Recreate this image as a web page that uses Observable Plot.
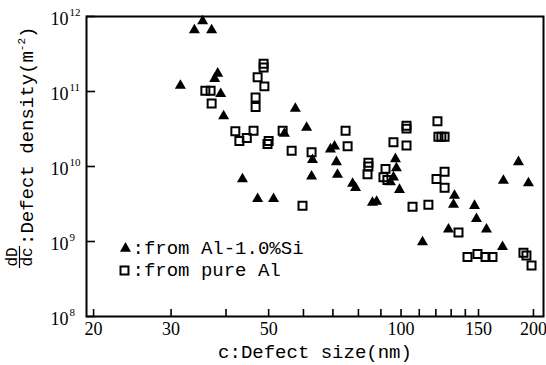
<!DOCTYPE html>
<html><head><meta charset="utf-8">
<script src="https://cdn.jsdelivr.net/npm/d3@7"></script>
<script src="https://cdn.jsdelivr.net/npm/@observablehq/plot@0.6"></script>
<style>body{margin:0;background:#fff}#chart{width:546px;height:365px}</style>
</head><body><div id="chart"></div>
<script>
// Al-1.0%Si (filled triangles): defect size (nm), defect density (m^-2)
const triX = [35.4,33.9,37.1,31.5,38.3,37.7,38.9,39.5,57.5,61.0,54.3,62.9,62.6,43.6,47.2,51.3,69.1,70.6,71.3,71.7,77.6,78.8,86.1,88.0,97.1,97.6,96.1,99.2,94.6,132.3,131.6,146.9,148.4,156.4,128.2,111.9,170.1,184.9,170.9,194.8];
const triY = [8.7e11,6.6e11,6.6e11,1.2e11,1.74e11,1.48e11,9.3e10,4.7e10,5.9e10,3.3e10,2.75e10,1.23e10,7.4e9,6.8e9,3.7e9,3.7e9,1.7e10,1.86e10,1.15e10,7.8e9,5.9e9,5.2e9,3.3e9,3.4e9,1.26e10,9.5e9,7.2e9,4.9e9,6.2e9,4.1e9,3.1e9,3.0e9,2.0e9,1.45e9,1.45e9,9.8e8,8.5e8,1.15e10,6.5e9,6.0e9];
// pure Al (open squares)
const sqX = [35.9,36.9,37.1,48.7,48.7,47.2,48.9,46.7,46.7,42.0,42.9,44.6,46.2,50.0,49.7,53.8,56.4,62.6,59.7,74.8,75.6,84.3,84.3,83.9,92.2,91.2,93.1,96.1,102.9,102.9,102.9,106.2,115.4,121.0,121.6,123.5,125.6,125.6,120.4,125.6,135.1,141.6,149.2,155.6,161.4,189.8,192.8,198.0];
const sqY = [1.02e11,1.02e11,6.9e10,2.34e11,2.09e11,1.55e11,1.17e11,8.3e10,6.2e10,2.95e10,2.19e10,2.4e10,3.0e10,2.19e10,2.0e10,3.0e10,1.62e10,1.55e10,3.0e9,3.0e10,1.86e10,1.12e10,1.0e10,7.9e9,9.3e9,7.2e9,6.6e9,2.1e10,1.9e10,3.5e10,3.2e10,2.9e9,3.1e9,4.0e10,2.5e10,2.5e10,2.5e10,8.5e9,6.8e9,5.2e9,1.32e9,6.2e8,6.8e8,6.2e8,6.2e8,7.1e8,6.5e8,4.8e8];

const xTicks = [20,30,40,50,60,70,80,90,100,110,120,130,140,150,200];
const xTickLabels = [20,30,50,100,150,200];
const yTicks = [1e8,1e9,1e10,1e11,1e12];
const yExponents = ["8","9","10","11","12"];
const legendLabels = [":from Al-1.0%Si", ":from pure Al"];
const xTitle = "c:Defect size(nm)";
const yTitleMain = ":Defect density(m";
const yTitleSup = "-2";
const yFracTop = "dD";
const yFracBottom = "dc";

const tri = triX.map((x, i) => ({x, y: triY[i]}));
const sq = sqX.map((x, i) => ({x, y: sqY[i]}));

const mono = "'Liberation Mono', 'DejaVu Sans Mono', monospace";
const serif = "'Liberation Serif', 'DejaVu Serif', serif";

const plot = Plot.plot({
  width: 546, height: 365,
  marginLeft: 86, marginRight: 3, marginTop: 16, marginBottom: 49,
  style: {background: "#fff", color: "#000"},
  x: {type: "log", domain: [19.27, 210.8], axis: null},
  y: {type: "log", domain: [1e8, 1e12], axis: null},
  marks: [
    Plot.tickX(xTicks, {x: d => d, insetTop: 293, stroke: "#000", strokeWidth: 1.6}),
    Plot.tickY(yTicks, {y: d => d, insetRight: 448, stroke: "#000", strokeWidth: 1.6}),
    Plot.text(xTickLabels, {x: d => d, frameAnchor: "bottom", dy: 13, lineAnchor: "middle", textAnchor: "middle",
      text: d => String(d), fontFamily: serif, fontSize: 18, fill: "#000"}),
    Plot.text(yTicks, {y: d => d, frameAnchor: "left", dx: -18, dy: 3, lineAnchor: "middle", textAnchor: "end",
      text: () => "10", fontFamily: serif, fontSize: 18, fill: "#000"}),
    Plot.text(yTicks, {y: d => d, frameAnchor: "left", dx: -17, dy: -4, lineAnchor: "middle", textAnchor: "start",
      text: (d, i) => yExponents[i], fontFamily: serif, fontSize: 11, fill: "#000"}),
    Plot.dot(sq, {x: "x", y: "y", symbol: "square", r: 4.5, stroke: "#000", strokeWidth: 2, fill: "none"}),
    Plot.dot(tri, {x: "x", y: "y", symbol: "triangle", r: 4.1, fill: "#000", stroke: "none"}),
    Plot.frame({stroke: "#000", strokeWidth: 2}),
    // legend
    Plot.dot([legendLabels[0]], {x: null, y: null, frameAnchor: "top-left", dx: 39, dy: 232, symbol: "triangle", r: 4.1, fill: "#000", stroke: "none"}),
    Plot.dot([legendLabels[1]], {x: null, y: null, frameAnchor: "top-left", dx: 38, dy: 254, symbol: "square", r: 4.5, stroke: "#000", strokeWidth: 2, fill: "none"}),
    Plot.text([legendLabels[0]], {x: null, y: null, frameAnchor: "top-left", dx: 46, dy: 231.5, text: d => d,
      textAnchor: "start", lineAnchor: "middle", fontFamily: mono, fontSize: 19, fill: "#000"}),
    Plot.text([legendLabels[1]], {x: null, y: null, frameAnchor: "top-left", dx: 46, dy: 253.5, text: d => d,
      textAnchor: "start", lineAnchor: "middle", fontFamily: mono, fontSize: 19, fill: "#000"}),
    // x title
    Plot.text([xTitle], {x: null, y: null, frameAnchor: "bottom", dy: 35, text: d => d,
      textAnchor: "middle", lineAnchor: "middle", fontFamily: mono, fontSize: 19, fill: "#000"})
  ]
});

document.getElementById("chart").appendChild(plot);

// y-axis title with fraction dD/dc, rotated
const svg = d3.select(plot);
const g = svg.append("g").attr("transform", "rotate(-90)").attr("font-family", mono).attr("fill", "#000");
g.append("text").attr("x", -257).attr("y", 17).attr("text-anchor", "middle").attr("font-size", 16).text(yFracTop);
g.append("line").attr("x1", -268).attr("x2", -246).attr("y1", 19.5).attr("y2", 19.5)
  .attr("stroke", "#000").attr("stroke-width", 1.2);
g.append("text").attr("x", -257).attr("y", 32).attr("text-anchor", "middle").attr("font-size", 16).text(yFracBottom);
const t = g.append("text").attr("x", -245).attr("y", 33).attr("text-anchor", "start").attr("font-size", 19).text(yTitleMain);
t.append("tspan").attr("font-size", 11).attr("dy", -8).text(yTitleSup);
t.append("tspan").attr("dy", 8).text(")");
</script>
</body></html>
